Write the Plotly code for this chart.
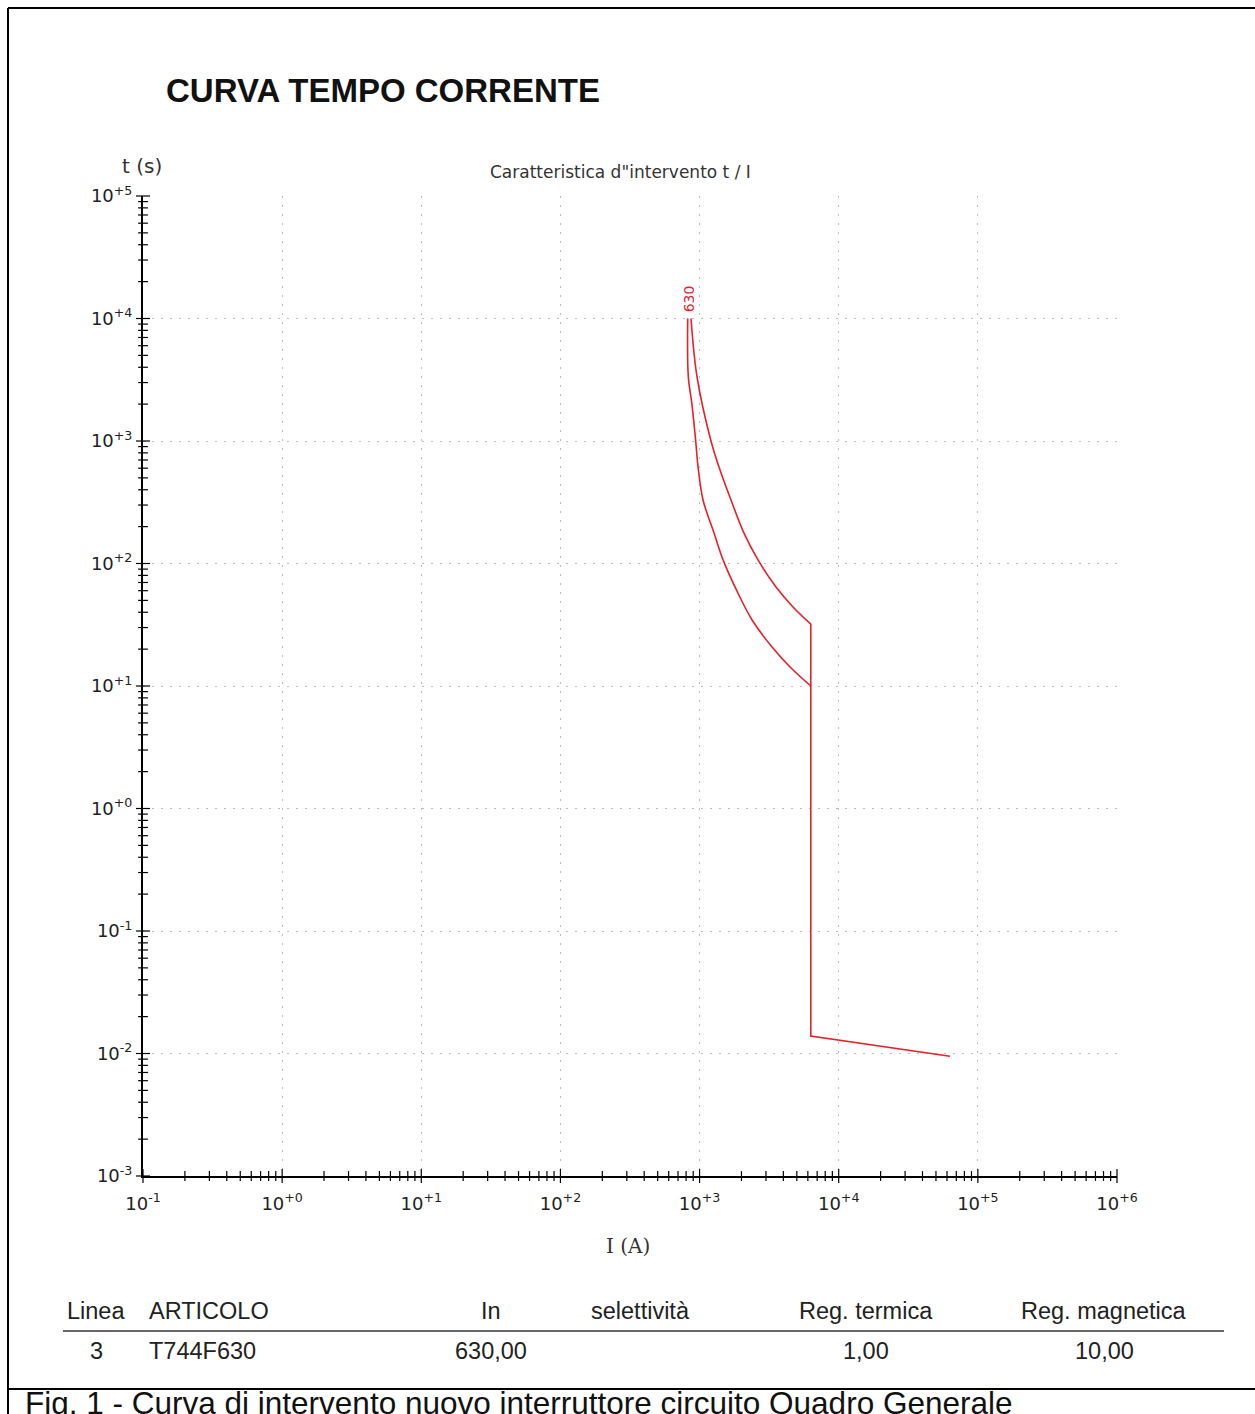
import math
import plotly.graph_objects as go

# ---- trip characteristic of the breaker (I in A, t in s) ----
rated_current = 630
thermal_upper_I = [868, 959, 1208, 1379, 1682, 2086, 2630, 3543, 4693, 6300]
thermal_upper_t = [10000, 3330, 1000, 614, 330, 177, 107, 64.3, 44.2, 32]
thermal_lower_I = [822, 830, 881, 938, 975, 1059, 1271, 1475, 1892, 2385, 3318, 4470, 6300]
thermal_lower_t = [10000, 3350, 2000, 1000, 617, 330, 177, 107, 57, 34.6, 20.8, 14.3, 10]
magnetic_I = [6300, 6300, 63000]
magnetic_t = [32, 0.0139, 0.0095]

# ---- axis decades ----
x_decades = [-1, 0, 1, 2, 3, 4, 5, 6]
y_decades = [-3, -2, -1, 0, 1, 2, 3, 4, 5]

# ---- summary table ----
table_header = ["Linea", "ARTICOLO", "In", "selettività", "Reg. termica", "Reg. magnetica"]
table_row = ["3", "T744F630", "630,00", "", "1,00", "10,00"]

title_text = "CURVA TEMPO CORRENTE"
subtitle_text = "Caratteristica d\"intervento t / I"
caption_text = "Fig. 1 - Curva di intervento nuovo interruttore circuito Quadro Generale"

# ---- page geometry (pixels) ----
W, H = 1255, 1414
L, R, T, B = 143, 1117, 196, 1176


def fx(px):
    return (px - L) / (R - L)


def fy(py):
    return (B - py) / (B - T)


RED = "#e8202a"
TICK_FONT = dict(family="DejaVu Sans", size=18, color="#222222")


def dec_label(d):
    sign = "+" if d >= 0 else "-"
    return f"10<sup>{sign}{abs(d)}</sup>"


def minor_vals(decades):
    return [m * 10 ** d for d in decades[:-1] for m in range(2, 10)]


fig = go.Figure()

curve_line = dict(color=RED, width=1.6)
fig.add_trace(go.Scatter(
    x=thermal_upper_I, y=thermal_upper_t, mode="lines",
    line=dict(curve_line, shape="spline", smoothing=1.0),
    showlegend=False, hoverinfo="skip"))
fig.add_trace(go.Scatter(
    x=thermal_lower_I, y=thermal_lower_t, mode="lines",
    line=dict(curve_line, shape="spline", smoothing=1.0),
    showlegend=False, hoverinfo="skip"))
fig.add_trace(go.Scatter(
    x=magnetic_I, y=magnetic_t, mode="lines", line=curve_line,
    showlegend=False, hoverinfo="skip"))

# cross-shaped ticks straddling the axis lines
x0 = 10 ** x_decades[0]
y0 = 10 ** y_decades[0]
x_major = [10 ** d for d in x_decades]
y_major = [10 ** d for d in y_decades]
tick_marker = dict(color="black", line=dict(color="black", width=1.2))
for xs, ys, sym, size in [
    (x_major, [y0] * len(x_major), "line-ns", 10),
    (minor_vals(x_decades), [y0] * len(minor_vals(x_decades)), "line-ns", 7),
    ([x0] * len(y_major), y_major, "line-ew", 10),
    ([x0] * len(minor_vals(y_decades)), minor_vals(y_decades), "line-ew", 7),
]:
    fig.add_trace(go.Scatter(
        x=xs, y=ys, mode="markers", cliponaxis=False,
        marker=dict(tick_marker, symbol=sym, size=size),
        showlegend=False, hoverinfo="skip"))

x_range = [x_decades[0], x_decades[-1]]
y_range = [y_decades[0], y_decades[-1]]

common = dict(type="log", showgrid=True, gridcolor="#bdbdbd",
              griddash="2px,7px", gridwidth=1, zeroline=False,
              showline=True, linecolor="black", linewidth=2,
              ticks="", tickfont=TICK_FONT)

fig.update_layout(
    width=W, height=H,
    margin=dict(l=L, r=W - R, t=T, b=H - B, autoexpand=False),
    paper_bgcolor="white", plot_bgcolor="white",
    xaxis=dict(common, range=x_range, tickvals=x_major,
               ticktext=[dec_label(d) for d in x_decades],
               ticklabelstandoff=10),
    yaxis=dict(common, range=y_range, tickvals=y_major,
               ticktext=[dec_label(d) for d in y_decades],
               ticklabelstandoff=5),
)

ann = []
# titles
ann.append(dict(text=f"<b>{title_text}</b>", x=fx(164), y=fy(91),
                xanchor="left", yanchor="middle", showarrow=False,
                font=dict(family="Liberation Sans", size=33, color="#111111")))
ann.append(dict(text=subtitle_text, x=fx(620), y=fy(172),
                xanchor="center", yanchor="middle", showarrow=False,
                font=dict(family="DejaVu Sans", size=17, color="#333333")))
ann.append(dict(text="t (s)", x=fx(142), y=fy(166),
                xanchor="center", yanchor="middle", showarrow=False,
                font=dict(family="DejaVu Sans", size=20, color="#333333")))
ann.append(dict(text="I (A)", x=fx(628), y=fy(1246),
                xanchor="center", yanchor="middle", showarrow=False,
                font=dict(family="DejaVu Serif", size=20, color="#333333")))
# curve label at the top of the band
ann.append(dict(text=str(rated_current), xref="x", yref="y",
                x=0.5 * (math.log10(thermal_lower_I[0]) + math.log10(thermal_upper_I[0])),
                y=math.log10(thermal_lower_t[0]),
                xanchor="center", yanchor="bottom", textangle=-90,
                showarrow=False, yshift=4,
                font=dict(family="DejaVu Sans", size=14, color=RED)))

# table
col_x = [96, 147, 491, 640, 866, 1104]
col_anchor = ["center", "left", "center", "center", "center", "center"]
TABLE_FONT = dict(family="Liberation Sans", size=23.5, color="#222222")
for cx, anc, head, val in zip(col_x, col_anchor, table_header, table_row):
    ann.append(dict(text=head, x=fx(cx), y=fy(1311), xanchor=anc,
                    yanchor="middle", showarrow=False, font=TABLE_FONT))
    if val:
        ann.append(dict(text=val, x=fx(cx), y=fy(1351), xanchor=anc,
                        yanchor="middle", showarrow=False, font=TABLE_FONT))

ann.append(dict(text=caption_text, x=fx(23), y=fy(1403), xanchor="left",
                yanchor="middle", showarrow=False,
                font=dict(family="Liberation Sans", size=31.5, color="#111111")))

for a in ann:
    a.setdefault("xref", "paper")
    a.setdefault("yref", "paper")
fig.update_layout(annotations=ann)

shapes = [
    # frame
    dict(type="line", x0=fx(8), x1=fx(W + 5), y0=fy(8), y1=fy(8)),
    dict(type="line", x0=fx(8), x1=fx(8), y0=fy(8), y1=fy(H + 5)),
    dict(type="line", x0=fx(8), x1=fx(W + 5), y0=fy(1389), y1=fy(1389)),
    # table header rule
    dict(type="line", x0=fx(63), x1=fx(1224), y0=fy(1331), y1=fy(1331),
         line=dict(width=1.5, color="#333333")),
]
for s in shapes:
    s.setdefault("xref", "paper")
    s.setdefault("yref", "paper")
    s.setdefault("line", dict(width=2, color="black"))
fig.update_layout(shapes=shapes)

fig.write_html("out.html")
